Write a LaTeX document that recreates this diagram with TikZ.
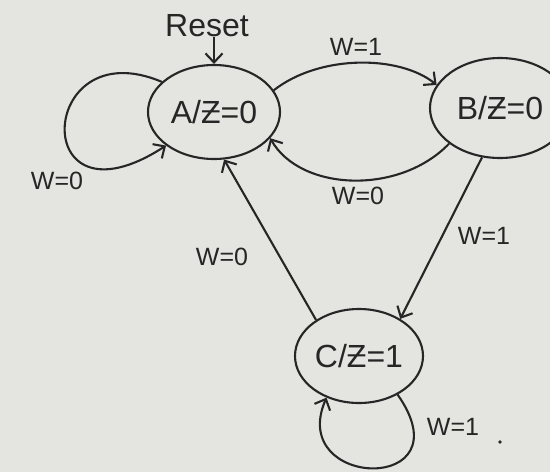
\documentclass[tikz,border=0pt]{standalone}
\usepackage{fontspec}
\setmainfont{Liberation Sans}
\usetikzlibrary{shapes.geometric,arrows.meta}
\definecolor{paper}{HTML}{E4E4E1}
\definecolor{ink}{HTML}{262626}
\begin{document}
\begin{tikzpicture}[x=1pt,y=-1pt,
  state/.style={ellipse,draw=ink,line width=2.1pt,inner sep=0pt,
    font=\fontsize{32}{36}\selectfont,text=ink},
  ed/.style={draw=ink,line width=2.1pt,
    -{Straight Barb[length=9pt,width=17pt,line width=2.1pt]}},
  lab/.style={font=\fontsize{25}{28}\selectfont,text=ink,inner sep=0pt}]
\fill[paper] (0,0) rectangle (550,472);
\useasboundingbox (0,0) rectangle (550,472);

% states
\node[state,minimum width=132pt,minimum height=94pt] (A) at (214,112) {A/Ƶ=0};
\node[state,minimum width=140pt,minimum height=100pt] (B) at (500,108) {B/Ƶ=0};
\node[state,minimum width=128pt,minimum height=94pt] (C) at (359,356) {C/Ƶ=1};

% reset input
\node[lab,font=\fontsize{32}{34}\selectfont] (R) at (207,26) {Reset};
\draw[ed] (R.south -| A.north) -- (A.north);

% transitions
\draw[ed] (A.150) .. controls +(-125,-53) and +(-139,90) .. (A.215);
\draw[ed] (A.20) .. controls +(46,-36) and +(-37,-30) .. (B.160);
\draw[ed] (B.215) .. controls +(-50,52) and +(30,53) .. (A.-25);
\draw[ed] (B.250) -- (C.42);
\draw[ed] (C.140) -- (A.-78);
\draw[ed] (C.-45) .. controls +(70,100) and +(-40,92) .. (C.-128);

% input labels
\node[lab] (l1) at (356,47) {W=1};
\node[lab] (l2) at (57,181) {W=0};
\node[lab] (l3) at (358,196) {W=0};
\node[lab] (l4) at (484,236) {W=1};
\node[lab] (l5) at (222,257) {W=0};
\node[lab] (l6) at (453,427) {W=1};
\fill[ink] (500,442) circle (1.8pt);
\end{tikzpicture}
\end{document}
